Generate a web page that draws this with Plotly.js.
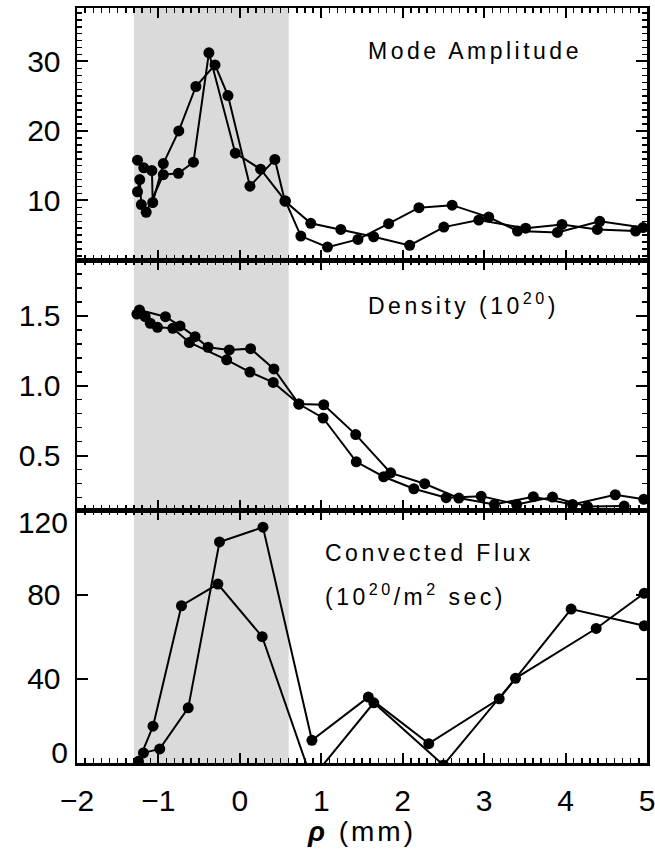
<!DOCTYPE html>
<html>
<head>
<meta charset="utf-8">
<script src="https://cdn.plot.ly/plotly-3.0.1.min.js"></script>
<style>
  html, body { margin: 0; padding: 0; background: #fff; }
  #chart { width: 655px; height: 856px; }
  .annotation-text { letter-spacing: 3.5px; }
  .xtitle { letter-spacing: 3px; }
</style>
</head>
<body>
<div id="chart"></div>
<script>
// ---- Data ----
// Shaded region (rho, mm)
const shadeRange = [-1.30, 0.60];

// Panel 1: Mode Amplitude
const ampRhoA = [-1.257, -1.18, -1.08, -1.07, -0.94, -0.75, -0.54, -0.305, -0.146, 0.124, 0.43, 0.553, 0.871, 1.24, 1.643, 2.085, 2.505, 2.934, 3.51, 3.956, 4.39, 4.86];
const ampA    = [15.8, 14.7, 14.3, 9.7, 15.3, 20.0, 26.4, 29.5, 25.1, 12.05, 15.9, 9.9, 6.7, 5.83, 4.77, 3.53, 6.16, 7.17, 6.0, 6.55, 5.83, 5.6];
const ampRhoB = [-1.257, -1.23, -1.21, -1.15, -0.94, -0.755, -0.57, -0.38, -0.056, 0.255, 0.56, 0.749, 1.076, 1.45, 1.827, 2.199, 2.607, 3.056, 3.41, 3.90, 4.42, 4.95];
const ampB    = [11.25, 13.0, 9.4, 8.3, 13.7, 13.9, 15.5, 31.25, 16.8, 14.5, 9.9, 4.87, 3.28, 4.39, 6.65, 8.95, 9.32, 7.6, 5.6, 5.4, 7.0, 6.1];

// Panel 2: Density (10^20)
const denRhoA = [-1.233, -0.914, -0.734, -0.55, -0.39, -0.13, 0.132, 0.418, 0.725, 1.03, 1.423, 1.852, 2.27, 2.689, 3.126, 3.604, 4.086, 4.61, 4.96];
const denA    = [1.543, 1.495, 1.429, 1.352, 1.276, 1.257, 1.266, 1.121, 0.869, 0.864, 0.65, 0.376, 0.298, 0.195, 0.15, 0.205, 0.15, 0.219, 0.186];
const denRhoB = [-1.265, -1.163, -1.10, -1.012, -0.824, -0.62, -0.162, 0.124, 0.41, 0.725, 1.022, 1.43, 1.766, 2.137, 2.534, 2.963, 3.40, 3.84, 4.27, 4.72];
const denB    = [1.514, 1.495, 1.448, 1.419, 1.412, 1.31, 1.186, 1.098, 1.024, 0.869, 0.769, 0.455, 0.348, 0.262, 0.198, 0.209, 0.15, 0.202, 0.134, 0.138];

// Panel 3: Convected Flux (10^20/m^2 sec)
const fluxRhoA = [-1.245, -1.066, -0.717, -0.27, 0.274, 0.88, 1.645, 2.50, 3.385, 4.376, 4.966];
const fluxA    = [0.8, 17.5, 74.7, 85, 60, -7.6, 28.6, -1, 40.2, 63.9, 80.6];
const fluxRhoB = [-1.184, -0.984, -0.634, -0.25, 0.284, 0.885, 1.578, 2.32, 3.185, 4.068, 4.966];
const fluxB    = [4.8, 6.7, 26.2, 105, 112, 10.8, 31.3, 9.2, 30.5, 73.1, 65.2];

// Axis settings
const xTickVals = [-2, -1, 0, 1, 2, 3, 4, 5];
const ampTicks = [10, 20, 30];
const denTicks = [0.5, 1.0, 1.5];
const fluxTicks = [0, 40, 80, 120];
const fluxMidLabels = ['', '40', '80', ''];
const fluxBottomLabel = [0];
const fluxTopLabel = [120];

// ---- Build ----
const FONT = 'Liberation Sans, Arial, Helvetica, sans-serif';
const TICKSIZE = 30;
function series(x, y, xa, ya) {
  return {
    x: x, y: y, xaxis: xa, yaxis: ya,
    type: 'scatter', mode: 'lines+markers',
    line: { color: '#000', width: 2 },
    marker: { color: '#000', size: 11 },
    showlegend: false, cliponaxis: true, hoverinfo: 'skip'
  };
}
function emptyOn(ya) {
  return { x: [], y: [], xaxis: 'x', yaxis: ya, type: 'scatter', mode: 'markers', showlegend: false, hoverinfo: 'skip' };
}
const data = [
  series(ampRhoA, ampA, 'x3', 'y3'),
  series(ampRhoB, ampB, 'x3', 'y3'),
  series(denRhoA, denA, 'x2', 'y2'),
  series(denRhoB, denB, 'x2', 'y2'),
  series(fluxRhoA, fluxA, 'x', 'y'),
  series(fluxRhoB, fluxB, 'x', 'y'),
  emptyOn('y4'),
  emptyOn('y5')
];

function xAxis(anchor, labels) {
  return {
    anchor: anchor, domain: [0, 1], range: [-2, 5],
    tickvals: xTickVals, ticks: 'inside', ticklen: 10, tickwidth: 2, tickcolor: '#000',
    minor: { dtick: 0.1, tick0: 0, ticks: 'inside', ticklen: 5, tickwidth: 1.5, tickcolor: '#000', showgrid: false },
    mirror: 'ticks', showline: true, linecolor: '#000', linewidth: 2.5,
    showgrid: false, zeroline: false, showticklabels: labels,
    tickfont: { family: FONT, size: TICKSIZE, color: '#000' },
    ticklabelstandoff: 9, ticklabeloverflow: 'allow',
    fixedrange: true
  };
}
function yAxis(anchor, domain, range, ticks, minorDtick, fmt) {
  const a = {
    anchor: anchor, domain: domain, range: range,
    tickvals: ticks, ticks: 'inside', ticklen: 11, tickwidth: 2, tickcolor: '#000',
    mirror: 'ticks', showline: true, linecolor: '#000', linewidth: 2.5,
    showgrid: false, zeroline: false,
    tickfont: { family: FONT, size: TICKSIZE, color: '#000' },
    ticklabelstandoff: 8, ticklabeloverflow: 'allow',
    fixedrange: true
  };
  if (fmt) a.tickformat = fmt;
  if (minorDtick) a.minor = { dtick: minorDtick, tick0: 0, ticks: 'inside', ticklen: 5, tickwidth: 1.5, tickcolor: '#000', showgrid: false };
  return a;
}
// label-only overlay axis for the bottom panel end labels (nudged inward as in the reference)
function labelAxis(vals, shift) {
  return {
    overlaying: 'y', anchor: 'x', side: 'left', range: [0, 120],
    tickvals: vals, ticks: '', showline: false, showgrid: false, zeroline: false,
    tickfont: { family: FONT, size: TICKSIZE, color: '#000' },
    ticklabelshift: shift, ticklabelstandoff: 8, ticklabeloverflow: 'allow',
    fixedrange: true
  };
}

const annFont = { family: FONT, size: 23, color: '#000' };
const fluxAxis = yAxis('x', [0, 0.3346], [0, 120], fluxTicks, null, null);
fluxAxis.ticktext = fluxMidLabels;

const layout = {
  width: 655, height: 856,
  margin: { l: 77, r: 8, t: 8, b: 93 },
  paper_bgcolor: '#fff', plot_bgcolor: 'rgba(0,0,0,0)',
  xaxis: Object.assign(xAxis('y', true), {
    title: { text: '<b><i>ρ</i></b> (mm)', font: { family: FONT, size: 28, color: '#000' }, standoff: 6 }
  }),
  xaxis2: xAxis('y2', false),
  xaxis3: xAxis('y3', false),
  yaxis: fluxAxis,
  yaxis2: yAxis('x2', [0.3346, 0.666], [0.107, 1.9], denTicks, 0.1, '.1f'),
  yaxis3: yAxis('x3', [0.666, 1], [1.4, 37.7], ampTicks, 1, null),
  yaxis4: labelAxis(fluxBottomLabel, -10),
  yaxis5: labelAxis(fluxTopLabel, 12),
  shapes: [{
    type: 'rect', xref: 'x', yref: 'paper',
    x0: shadeRange[0], x1: shadeRange[1], y0: 0, y1: 1,
    fillcolor: '#dadada', line: { width: 0 }, layer: 'below'
  }],
  annotations: [
    { xref: 'paper', yref: 'paper', x: 0.507, y: 0.943, xanchor: 'left', yanchor: 'middle',
      text: 'Mode Amplitude', showarrow: false, font: annFont },
    { xref: 'paper', yref: 'paper', x: 0.507, y: 0.608, xanchor: 'left', yanchor: 'middle',
      text: 'Density (10<sup>20</sup>)', showarrow: false, font: annFont },
    { xref: 'paper', yref: 'paper', x: 0.431, y: 0.278, xanchor: 'left', yanchor: 'middle',
      text: 'Convected Flux', showarrow: false, font: annFont },
    { xref: 'paper', yref: 'paper', x: 0.431, y: 0.223, xanchor: 'left', yanchor: 'middle',
      text: '(10<sup>20</sup>/m<sup>2</sup> sec)', showarrow: false, font: annFont }
  ]
};

Plotly.newPlot('chart', data, layout, { staticPlot: true, displayModeBar: false });
</script>
</body>
</html>
